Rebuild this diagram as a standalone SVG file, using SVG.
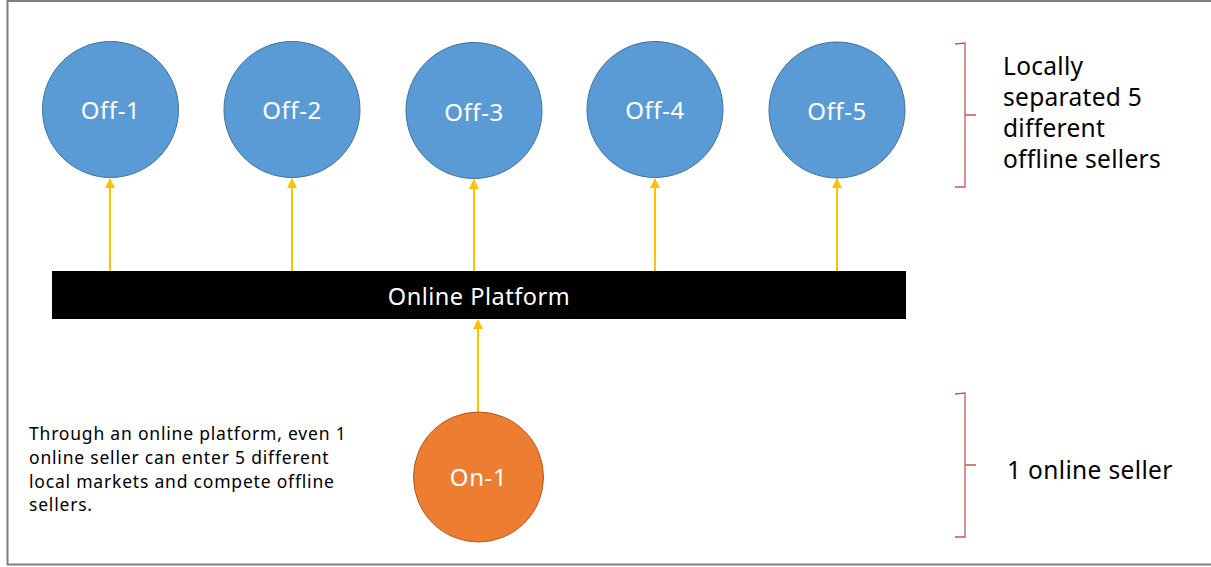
<svg xmlns="http://www.w3.org/2000/svg" width="1211" height="567" viewBox="0 0 1211 567">
<defs>
<style>
.off{fill:#5B9BD5;stroke:#41719C;stroke-width:1}
.on{fill:#ED7D31;stroke:#AE5A21;stroke-width:1}
.lbl{font-family:"Noto Sans","Open Sans",sans-serif;fill:#fff;text-anchor:middle;font-size:24px;letter-spacing:0.6px}
.txt{font-family:"Noto Sans","Open Sans",sans-serif;fill:#000}
.conn{stroke:#FFC000;stroke-width:2;fill:none;marker-end:url(#ah)}
.brace{stroke:#C9565A;stroke-width:1.3;fill:none}
</style>
<marker id="ah" viewBox="0 0 10 10" refX="9" refY="5" markerWidth="5" markerHeight="5" orient="auto">
<path d="M0,0 L10,5 L0,10 z" fill="#FFC000"/>
</marker>
</defs>
<rect x="0" y="0" width="1211" height="567" fill="#fff"/>
<rect x="7.5" y="1" width="1210" height="563.5" fill="none" stroke="#7f7f7f" stroke-width="2"/>
<g id="connectors">
<line class="conn" x1="110" y1="271" x2="110" y2="179"/>
<line class="conn" x1="292" y1="271" x2="292" y2="179"/>
<line class="conn" x1="474" y1="271" x2="474" y2="180"/>
<line class="conn" x1="655" y1="271" x2="655" y2="179"/>
<line class="conn" x1="837" y1="271" x2="837" y2="179"/>
<line class="conn" x1="478" y1="412" x2="478" y2="320"/>
</g>
<g id="off1"><circle class="off" cx="110.5" cy="109.5" r="68"/><text class="lbl" x="110.5" y="119">Off-1</text></g>
<g id="off2"><circle class="off" cx="292" cy="109.5" r="68"/><text class="lbl" x="292" y="119">Off-2</text></g>
<g id="off3"><circle class="off" cx="474" cy="110.5" r="68"/><text class="lbl" x="474" y="121">Off-3</text></g>
<g id="off4"><circle class="off" cx="655" cy="109.5" r="68"/><text class="lbl" x="655" y="119">Off-4</text></g>
<g id="off5"><circle class="off" cx="837" cy="110" r="68"/><text class="lbl" x="837" y="120">Off-5</text></g>
<g id="platform"><rect x="52" y="271" width="854" height="48" fill="#000"/><text class="lbl" x="479" y="305" style="font-size:23.5px;letter-spacing:0.5px">Online Platform</text></g>
<g id="on1"><circle class="on" cx="478.5" cy="477" r="65"/><text class="lbl" x="478.5" y="486">On-1</text></g>
<g id="brace-off">
<path class="brace" d="M955,44 L965,43 L965,115 L976,115 M965,115 L965,187 L955,187"/>
<text class="txt" font-size="24.5" letter-spacing="0.3"><tspan x="1003" y="75">Locally</tspan><tspan x="1003" y="106">separated 5</tspan><tspan x="1003" y="137">different</tspan><tspan x="1003" y="168">offline sellers</tspan></text>
</g>
<g id="brace-on">
<path class="brace" d="M955,394 L965,393 L965,465 L976,465 M965,465 L965,537 L955,537"/>
<text class="txt" font-size="24.5" letter-spacing="0.35" x="1007" y="479">1 online seller</text>
</g>
<g id="note">
<text class="txt" font-size="17.5" letter-spacing="0.8"><tspan x="29" y="440">Through an online platform, even 1</tspan><tspan x="29" y="464">online seller can enter 5 different</tspan><tspan x="29" y="488">local markets and compete offline</tspan><tspan x="29" y="511">sellers.</tspan></text>
</g>
</svg>
